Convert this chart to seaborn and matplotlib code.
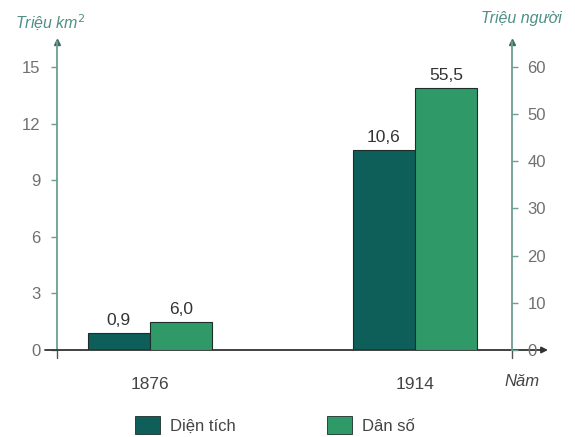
import matplotlib
matplotlib.use("Agg")
import matplotlib.pyplot as plt
import seaborn as sns
import pandas as pd
import numpy as np
from matplotlib.patches import Patch

years = ["1876", "1914"]
area = [0.9, 10.6]          # Triệu km²
population = [6.0, 55.5]    # Triệu người
series = ["Diện tích", "Dân số"]
area_labels = ["0,9", "10,6"]
pop_labels = ["6,0", "55,5"]
left_ticks = [0, 3, 6, 9, 12, 15]
right_ticks = [0, 10, 20, 30, 40, 50, 60]

c_area = "#0e5f5a"
c_pop = "#2f9a68"
axis_col = "#6c9e92"
tick_col = "#707070"
title_col = "#4f8f86"

sns.set_style("white")
plt.rcParams['font.family'] = ['Liberation Sans', 'DejaVu Sans']

df_area = pd.DataFrame({"year": years * 2,
                        "series": [series[0]] * 2 + [series[1]] * 2,
                        "value": area + [np.nan, np.nan]})
df_pop = pd.DataFrame({"year": years * 2,
                       "series": [series[0]] * 2 + [series[1]] * 2,
                       "value": [np.nan, np.nan] + population})

fig = plt.figure(figsize=(5.75, 4.37), dpi=100)
ax = fig.add_axes([57/575, 1 - 350/437, 455/575, 308/437])
ax2 = ax.twinx()

sns.barplot(data=df_area, x="year", y="value", hue="series", hue_order=series,
            palette=[c_area, c_pop], saturation=1, width=0.47, gap=0, legend=False, ax=ax,
            edgecolor="#1d2d2a", linewidth=0.8, errorbar=None)
sns.barplot(data=df_pop, x="year", y="value", hue="series", hue_order=series,
            palette=[c_area, c_pop], saturation=1, width=0.47, gap=0, legend=False, ax=ax2,
            edgecolor="#1d2d2a", linewidth=0.8, errorbar=None)

xl = (-93/265, 362/265)
ax.set_xlim(*xl)
ax2.set_xlim(*xl)
ax.set_ylim(0, 308/18.87)
ax2.set_ylim(0, 4 * 308/18.87)

for a in (ax, ax2):
    a.set_xlabel("")
    a.set_ylabel("")
    a.patch.set_visible(False)
    for s in a.spines.values():
        s.set_visible(False)

ax.spines["left"].set_visible(True)
ax.spines["left"].set_color(axis_col)
ax.spines["left"].set_linewidth(1.3)
ax2.spines["right"].set_visible(True)
ax2.spines["right"].set_color(axis_col)
ax2.spines["right"].set_linewidth(1.3)

ax.set_yticks(left_ticks)
ax.set_yticklabels([str(t) for t in left_ticks])
ax2.set_yticks(right_ticks)
ax2.set_yticklabels([str(t) for t in right_ticks])
ax.tick_params(axis="y", left=True, direction="out", length=4, width=1, color=axis_col,
               labelcolor=tick_col, labelsize=12, pad=8)
ax2.tick_params(axis="y", right=True, direction="out", length=4, width=1, color=axis_col,
                labelcolor=tick_col, labelsize=12, pad=7)
ax.tick_params(axis="x", bottom=False, labelsize=12.5, labelcolor="#444444", pad=16)
ax2.tick_params(axis="x", bottom=False, labelbottom=False)
ax.set_xticks([0, 1])
ax.set_xticklabels(years)

# bar value labels
for i, lab in enumerate(area_labels):
    ax.text(i - 0.1175, area[i] + 0.25, lab, ha="center", va="bottom",
            fontsize=12.5, color="#333333")
for i, lab in enumerate(pop_labels):
    ax2.text(i + 0.1175, population[i] + 1.0, lab, ha="center", va="bottom",
             fontsize=12.5, color="#333333")

# axis arrows
ax.annotate("", xy=(491/455, 0), xytext=(-12/455, 0), xycoords="axes fraction",
            textcoords="axes fraction",
            arrowprops=dict(arrowstyle="-|>", color="#333333", lw=1.3,
                            mutation_scale=9, shrinkA=0, shrinkB=0))
ax.plot([0], [1], marker="^", markersize=4, color="#3d6e64", transform=ax.transAxes,
        clip_on=False)
ax.plot([1], [1], marker="^", markersize=4, color="#3d6e64", transform=ax.transAxes,
        clip_on=False)
for xp in (0, 1):
    ax.plot([xp, xp], [0, -8/308], color="#555555", lw=1, transform=ax.transAxes,
            clip_on=False)

# axis titles
fig.text(15/575, 1 - 22/437, "Triệu km$^{2}$", fontsize=11.5, style="italic",
         color=title_col, va="center", ha="left")
fig.text(562/575, 1 - 18/437, "Triệu người", fontsize=11.5, style="italic",
         color=title_col, va="center", ha="right")
fig.text(522/575, 1 - 381/437, "Năm", fontsize=12, style="italic",
         color="#444444", va="center", ha="center")

handles = [Patch(facecolor=c_area, edgecolor="#1d2d2a", lw=0.6),
           Patch(facecolor=c_pop, edgecolor="#1d2d2a", lw=0.6)]
fig.legend(handles, series, loc="center", bbox_to_anchor=(275/575, 1 - 425/437),
           ncol=2, frameon=False, fontsize=12, handlelength=1.5, handleheight=1.2,
           columnspacing=5.5, handletextpad=0.6, labelcolor="#444444")

fig.savefig("out.png", dpi=100)
